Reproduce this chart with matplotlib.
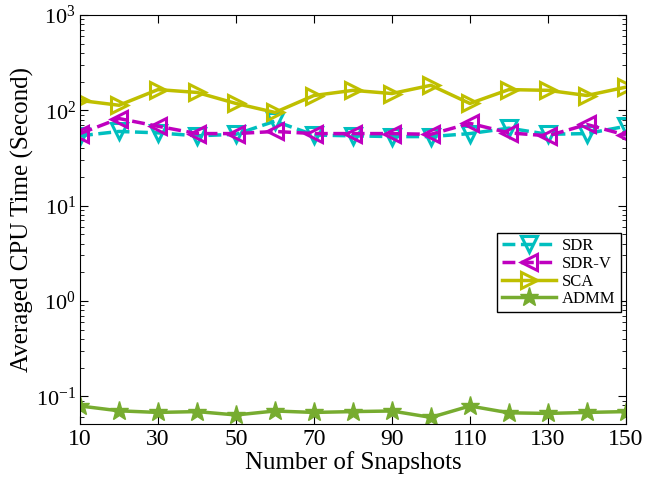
import numpy as np
import matplotlib
matplotlib.use('Agg')
import matplotlib.pyplot as plt
from matplotlib.ticker import LogLocator, NullFormatter

snapshots = [10, 20, 30, 40, 50, 60, 70, 80, 90, 100, 110, 120, 130, 140, 150]
sdr = [54, 60, 58, 54, 56, 77, 55, 54, 53, 53, 57, 65, 56, 57, 68]
sdr_v = [57, 82, 68, 57, 57, 60, 57, 57, 57, 56, 73, 58, 54, 71, 55]
sca = [127, 113, 165, 154, 118, 95, 143, 162, 150, 183, 118, 165, 162, 143, 175]
admm = [0.079, 0.0703, 0.0676, 0.069, 0.0636, 0.070, 0.0676, 0.069, 0.070,
        0.060, 0.079, 0.067, 0.066, 0.0676, 0.069]

plt.rcParams['font.family'] = ['Liberation Serif', 'DejaVu Serif']
plt.rcParams['mathtext.fontset'] = 'stix'

fig = plt.figure(figsize=(6.56, 4.92), dpi=100)
ax = fig.add_axes([0.122, 0.138, 0.832, 0.8315])

lw = 2.5
ms = 12
ax.plot(snapshots, sdr, '--', color='#00BFBF', lw=lw, marker='v', ms=ms,
        mfc='none', mew=2.2, label='SDR')
ax.plot(snapshots, sdr_v, '--', color='#BF00BF', lw=lw, marker='<', ms=ms,
        mfc='none', mew=2.2, label='SDR-V')
ax.plot(snapshots, sca, '-', color='#BFBF00', lw=lw, marker='>', ms=ms,
        mfc='none', mew=2.2, label='SCA')
ax.plot(snapshots, admm, '-', color='#77AC30', lw=lw, marker='*', ms=14,
        label='ADMM')

ax.set_yscale('log')
ax.set_xlim(10, 150)
ax.set_ylim(0.051, 1000)
ax.set_xticks(range(10, 151, 20))
ax.yaxis.set_minor_locator(LogLocator(base=10, subs=np.arange(2, 10)))
ax.yaxis.set_minor_formatter(NullFormatter())
ax.tick_params(which='both', direction='in', top=True, right=True, labelsize=17)
ax.tick_params(axis='y', labelsize=16, pad=3)
ax.tick_params(which='major', length=6)
ax.tick_params(which='minor', length=3)
for s in ax.spines.values():
    s.set_linewidth(0.8)

ax.set_xlabel('Number of Snapshots', fontsize=18, labelpad=1)
ax.set_ylabel('Averaged CPU Time (Second)', fontsize=18)
ax.yaxis.set_label_coords(-0.084, 0.5)

ax.legend(loc='center right', bbox_to_anchor=(1.0, 0.37), fontsize=12,
          fancybox=False, edgecolor='black', framealpha=1, borderaxespad=0.3,
          handlelength=3.2, borderpad=0.3, labelspacing=0.1, handletextpad=0.4)

fig.savefig('out.png', dpi=100)
